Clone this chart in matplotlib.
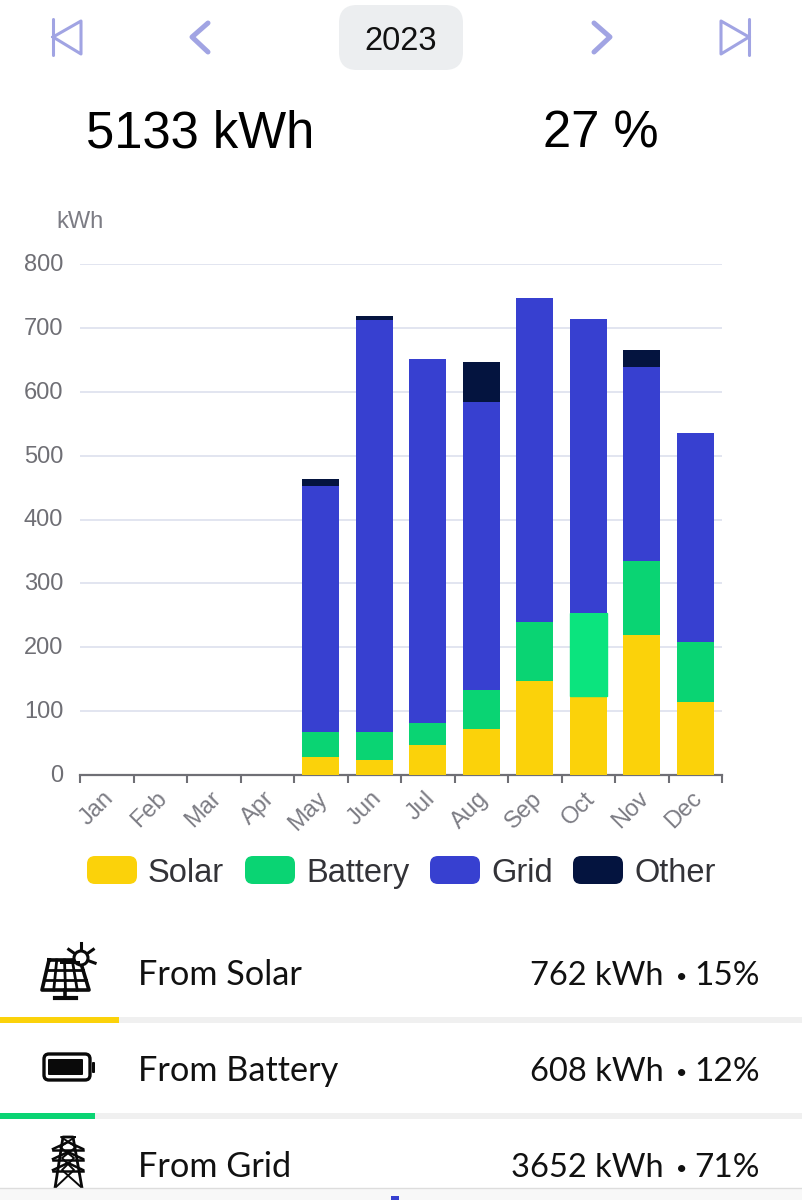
import matplotlib
matplotlib.use("Agg")
import matplotlib.pyplot as plt
from matplotlib.patches import FancyBboxPatch, Rectangle, Circle
from matplotlib.transforms import ScaledTranslation
import numpy as np

months = ["Jan", "Feb", "Mar", "Apr", "May", "Jun", "Jul", "Aug", "Sep", "Oct", "Nov", "Dec"]
solar = [0, 0, 0, 0, 28, 24, 47, 72, 147, 123, 219, 115]
battery = [0, 0, 0, 0, 39, 43, 35, 61, 92, 130, 116, 93]
grid = [0, 0, 0, 0, 385, 645, 570, 451, 508, 461, 303, 327]
other = [0, 0, 0, 0, 11, 6, 0, 63, 0, 0, 27, 0]

series_names = ["Solar", "Battery", "Grid", "Other"]
series_colors = ["#FBD20A", "#0AD473", "#3740D0", "#04143F"]
hover_battery = "#0BE47E"

source_names = ["From Solar", "From Battery", "From Grid"]
source_kwh = [762, 608, 3652]
source_pct = [15, 12, 71]
total_kwh = 5133
self_pct = 27

W, H = 802, 1200
fig = plt.figure(figsize=(W / 100, H / 100), dpi=100, facecolor="white")
plt.rcParams["font.family"] = ["Liberation Sans", "DejaVu Sans"]

# chart area, in figure fractions from the pixel box
ax = fig.add_axes([80 / W, 1 - 775 / H, 642 / W, 511 / H])
x = np.arange(len(months))
bottom = np.zeros(len(months))
for vals, name, col in zip([solar, battery, grid, other], series_names, series_colors):
    bars = ax.bar(x, vals, bottom=bottom, width=0.69, color=col, label=name, zorder=3)
    if name == "Battery":
        bars[9].set_color(hover_battery)  # Oct is highlighted in the app
    bottom += np.array(vals)

ax.set_xlim(-0.5, 11.5)
ax.set_ylim(0, 800)
ax.set_yticks(np.arange(0, 801, 100))
ax.yaxis.grid(True, color="#E2E5F0", lw=1.4, zorder=0)
ax.set_axisbelow(True)
for s in ["top", "right", "left"]:
    ax.spines[s].set_visible(False)
ax.spines["bottom"].set_color("#6F6F75")
ax.spines["bottom"].set_linewidth(1.6)
ax.tick_params(axis="y", length=0, pad=12, labelsize=17, labelcolor="#6F6F75")
for lab in ax.get_yticklabels():
    lab.set_transform(lab.get_transform() + ScaledTranslation(0, 0.015, fig.dpi_scale_trans))

# ticks sit between the months, labels under the month centres
ax.set_xticks(x - 0.5, minor=False)
ax.set_xticks([11.5], minor=True)
ax.tick_params(axis="x", which="both", length=6, width=1.5, color="#6F6F75", labelbottom=False)
for i, m in enumerate(months):
    ax.annotate(m, xy=(i, 0), xycoords=("data", "axes fraction"), xytext=(-3, -9),
                textcoords="offset points", rotation=45, ha="right", va="top",
                rotation_mode="anchor", fontsize=17, color="#7C7C84")

# overlay in pixel coordinates for the app furniture around the chart
ui = fig.add_axes([0, 0, 1, 1], facecolor="none")
ui.set_xlim(0, W)
ui.set_ylim(H, 0)
ui.axis("off")

ICON = "#A1A4E3"
ui.add_patch(FancyBboxPatch((357, 5 + 18), 88, 65 - 36, boxstyle="round,pad=18,rounding_size=18",
                            fc="#ECEEF0", ec="none"))
ui.text(401, 50, "2023", ha="center", va="baseline", fontsize=23.5, color="#111111")
for x0, sgn in [(53, 1), (749, -1)]:
    ui.plot([x0, x0], [19, 55], color=ICON, lw=2.2, solid_capstyle="round")
    ui.plot([x0, x0 + sgn * 28, x0 + sgn * 28, x0], [37, 21, 54, 37], color=ICON, lw=2.2,
            solid_joinstyle="round")
ui.plot([208, 192, 208], [23, 37, 52], color=ICON, lw=3.6, solid_capstyle="round", solid_joinstyle="round")
ui.plot([594, 610, 594], [23, 37, 52], color=ICON, lw=3.6, solid_capstyle="round", solid_joinstyle="round")

ui.text(200, 148, f"{total_kwh} kWh", ha="center", va="baseline", fontsize=36.5, color="black")
ui.text(601, 148, f"{self_pct} %", ha="center", va="baseline", fontsize=36.5, color="black")
ui.text(80, 228, "kWh", ha="center", va="baseline", fontsize=17, color="#7C7C84")

# legend
leg_x = [87, 245, 430, 573]
for lx, name, col in zip(leg_x, series_names, series_colors):
    ui.add_patch(FancyBboxPatch((lx + 8, 864), 34, 12, boxstyle="round,pad=8,rounding_size=8",
                                fc=col, ec="none"))
    ui.text(lx + 61, 882, name, ha="left", va="baseline", fontsize=23.5, color="#333338")

# breakdown rows
row_y = [985, 1081, 1177]
bar_y = [1017, 1113]
for i, (name, kwh, pct) in enumerate(zip(source_names, source_kwh, source_pct)):
    ui.text(138, row_y[i], name, ha="left", va="baseline", fontsize=24.7, family="Lato", color="#111111")
    ui.text(664, row_y[i], f"{kwh} kWh", ha="right", va="baseline", fontsize=23.5, family="Lato", color="#111111")
    ui.text(682, row_y[i] - 8, "•", ha="center", va="center", fontsize=14, family="Lato", color="#111111")
    ui.text(760, row_y[i], f"{pct}%", ha="right", va="baseline", fontsize=24, family="Lato", color="#111111")
    if i < 2:
        ui.add_patch(Rectangle((0, bar_y[i]), W, 6, fc="#F0F0F0", ec="none"))
        ui.add_patch(Rectangle((0, bar_y[i]), W * kwh / total_kwh, 6, fc=series_colors[i], ec="none"))

# solar panel icon
K = "#0A0A0A"
ul, ur, lr, ll = (49, 960), (80, 960), (89, 990), (42, 990)
ui.plot([ul[0], ur[0], lr[0], ll[0], ul[0]], [ul[1], ur[1], lr[1], ll[1], ul[1]], color=K, lw=2.6)
for t in [1 / 3, 2 / 3]:
    ui.plot([ul[0] + t * (ll[0] - ul[0]), ur[0] + t * (lr[0] - ur[0])], [960 + t * 30] * 2, color=K, lw=2)
for t in [0.25, 0.5, 0.75]:
    ui.plot([ul[0] + t * 31, ll[0] + t * 47], [960, 990], color=K, lw=2)
ui.plot([65, 65], [990, 997], color=K, lw=2.6)
ui.plot([55, 76], [998, 998], color=K, lw=3)
ui.add_patch(Circle((81, 958), 7, fc="white", ec=K, lw=2.2, zorder=3))
ui.add_patch(Rectangle((60, 961), 20, 3, fc=K, ec="none", zorder=4))
for a in np.deg2rad([-90, -35, 20, 215]):
    ui.plot([81 + 9 * np.cos(a), 81 + 15 * np.cos(a)], [958 + 9 * np.sin(a), 958 + 15 * np.sin(a)],
            color=K, lw=2.2)

# battery icon
ui.add_patch(FancyBboxPatch((47, 1057), 40, 20, boxstyle="round,pad=3,rounding_size=5", fc="white", ec=K, lw=2.4))
ui.add_patch(FancyBboxPatch((49, 1060), 33, 14, boxstyle="round,pad=1,rounding_size=1", fc=K, ec="none"))
ui.add_patch(FancyBboxPatch((92, 1062), 3, 11, boxstyle="round,pad=0,rounding_size=1", fc=K, ec="none"))

# pylon icon
ui.plot([55, 63, 73, 82], [1188, 1137, 1137, 1188], color=K, lw=2)
ui.plot([56, 74, 62, 76, 61, 75], [1187, 1170, 1158, 1147, 1137, 1137], color=K, lw=1.4)
ui.plot([81, 62, 74, 60, 75, 63], [1187, 1170, 1158, 1147, 1137, 1137], color=K, lw=1.4)
for yy in [1149, 1159, 1170]:
    ui.plot([53, 68, 83], [yy, yy - 7, yy], color=K, lw=1.8)
    ui.plot([53, 83], [yy + 1, yy + 1], color=K, lw=1.8)

# bottom nav strip, cut off by the screenshot
ui.add_patch(Rectangle((0, 1188), W, 12, fc="#F8F8F8", ec="none", zorder=4))
ui.plot([0, W], [1188, 1188], color="#DDDDDD", lw=1, zorder=5)
ui.add_patch(Rectangle((391, 1196), 8, 4, fc="#3740D0", ec="none", zorder=5))

fig.savefig("out.png", dpi=100)
